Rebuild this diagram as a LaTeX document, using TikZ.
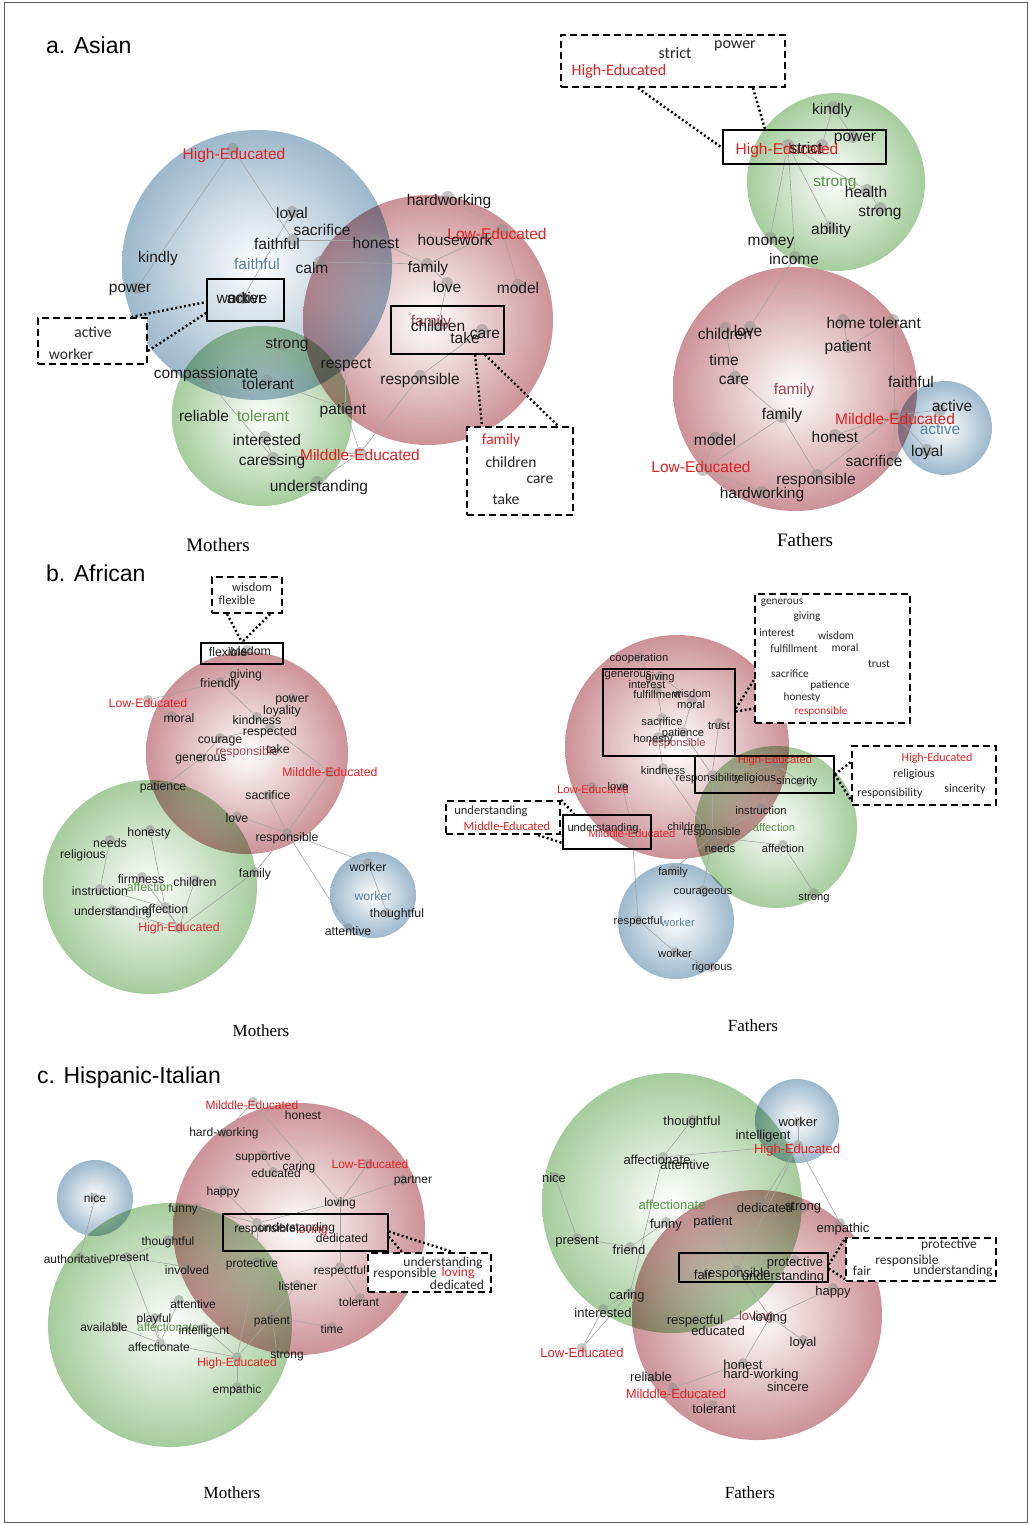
\documentclass[tikz,border=0pt]{standalone}
\usepackage{fontspec}
\setmainfont{Liberation Serif}
\setsansfont{Liberation Sans}
\newfontfamily\calfont{Carlito}
\definecolor{txt}{RGB}{28,28,28}
\definecolor{calltxt}{RGB}{40,40,40}
\definecolor{hired}{RGB}{228,32,32}
\definecolor{bluelab}{RGB}{88,130,165}
\definecolor{greenlab}{RGB}{88,150,70}
\definecolor{famc}{RGB}{160,70,82}
\definecolor{cblue}{RGB}{140,172,196}
\definecolor{cred}{RGB}{196,128,134}
\definecolor{cgreen}{RGB}{150,196,140}
\definecolor{edgec}{RGB}{165,165,165}
\definecolor{dotc}{RGB}{140,140,140}
\definecolor{framec}{RGB}{90,90,90}
\newcommand\mkdot[2]{\node[dotn] (#1) at (#2) {};}
\newcommand\mkw[4][]{\node[#1] (#2) at (#3) {#4};}
\tikzset{
 circ/.style={inner color=white, opacity=0.85, blend mode=multiply},
 lab/.style={inner sep=0pt, text=txt},
 wA/.style={lab, font=\sffamily\fontsize{15.5}{16}\selectfont},
 wBM/.style={lab, font=\sffamily\fontsize{12.3}{13}\selectfont},
 wBF/.style={lab, font=\sffamily\fontsize{11.2}{12}\selectfont},
 wCM/.style={lab, font=\sffamily\fontsize{12}{13}\selectfont},
 wCF/.style={lab, font=\sffamily\fontsize{13}{14}\selectfont},
 hr/.style={text=hired}, bl/.style={text=bluelab}, gr/.style={text=greenlab}, fm/.style={text=famc},
 cl/.style={inner sep=0pt, text=calltxt},
 cA/.style={cl, font=\calfont\fontsize{15.5}{16}\selectfont},
 cA2/.style={cl, font=\calfont\fontsize{16}{17}\selectfont},
 cB/.style={cl, font=\calfont\fontsize{12.5}{13}\selectfont},
 cBs/.style={cl, font=\calfont\fontsize{11.3}{12}\selectfont},
 cBm/.style={cl, font=\calfont\fontsize{12}{13}\selectfont},
 cC/.style={cl, font=\calfont\fontsize{13.5}{14}\selectfont},
 dotn/.style={circle, fill=dotc, fill opacity=0.5, draw=none, minimum size=12pt, inner sep=0pt},
 lnk/.style={draw=edgec, line width=0.6pt},
 sbox/.style={draw=black, line width=1.5pt, inner sep=0pt},
 dbox/.style={draw=black, fill=white, line width=2.2pt, dash pattern=on 7pt off 4pt, inner sep=0pt},
 dotl/.style={draw=black, line width=2.4pt, dash pattern=on 2pt off 2.5pt},
 captA/.style={inner sep=0pt, font=\rmfamily\fontsize{19}{20}\selectfont},
 captB/.style={inner sep=0pt, font=\rmfamily\fontsize{17}{18}\selectfont},
 ttl/.style={inner sep=0pt, anchor=west, font=\sffamily\fontsize{23}{24}\selectfont},
}
\begin{document}
\begin{tikzpicture}[x=1pt,y=-1pt]
\useasboundingbox (0,0) rectangle (1030,1525);
\fill[white] (0,0) rectangle (1030,1525);
\draw[framec, line width=1pt] (4,3) rectangle (1027,1522);

% ---------- titles and captions
\node[ttl] (tA) at (46,45) {a. Asian};
\node[ttl] (tB) at (46,573) {b. African};
\node[ttl] (tC) at (37,1078) {c. Hispanic-Italian};
\node[captA] (capAM) at (218,545) {Mothers};
\node[captA] (capAF) at (805,540) {Fathers};
\node[captB] (capBM) at (261,1031) {Mothers};
\node[captB] (capBF) at (753,1026) {Fathers};
\node[captB] (capCM) at (232,1493) {Mothers};
\node[captB] (capCF) at (750,1493) {Fathers};

% ================= a. Asian, Mothers
\shade[circ, outer color=cblue] (257,265) circle[radius=135pt];
\shade[circ, outer color=cred] (428,320) circle[radius=125pt];
\shade[circ, outer color=cgreen] (262,416) circle[radius=90pt];
\mkdot{amd1}{233,149}\mkdot{amd2}{137,288}\mkdot{amd3}{293,240}\mkdot{amd4}{292,212}
\mkdot{amd5}{243,298}\mkdot{amd6}{375,240}\mkdot{amd7}{320,262}\mkdot{amd8}{427,264}
\mkdot{amd9}{502,230}\mkdot{amd10}{448,197}\mkdot{amd11}{518,285}\mkdot{amd12}{447,283}
\mkdot{amd13}{438,325}\mkdot{amd14}{482,330}\mkdot{amd15}{420,376}\mkdot{amd16}{360,453}
\mkdot{amd17}{283,345}\mkdot{amd18}{267,381}\mkdot{amd19}{205,377}\mkdot{amd20}{265,437}
\mkdot{amd21}{273,458}\mkdot{amd22}{345,408}\mkdot{amd23}{317,482}\mkdot{amd24}{345,362}
\foreach \a/\b in {amd1/amd2,amd1/amd3,amd3/amd6,amd4/amd5,amd6/amd8,amd7/amd8,amd8/amd9,
 amd9/amd10,amd9/amd11,amd8/amd12,amd12/amd13,amd14/amd15,amd15/amd16,amd17/amd18,
 amd19/amd21,amd20/amd21,amd21/amd16,amd18/amd22,amd22/amd16,amd23/amd16,amd24/amd22}
 \draw[lnk] (\a) -- (\b);
\mkw[wA,hr]{amHE}{234,155}{High-Educated}
\mkw[wA]{amLoyal}{292,214}{loyal}
\mkw[wA]{amSacr}{322,230}{sacrifice}
\mkw[wA]{amFaith}{277,244}{faithful}
\mkw[wA,bl]{amFaithB}{257,264}{faithful}
\mkw[wA]{amHonest}{376,243}{honest}
\mkw[wA]{amCalm}{312,268}{calm}
\mkw[wA]{amKindly}{158,258}{kindly}
\mkw[wA]{amPower}{130,290}{power}
\mkw[wA]{amWorker}{240,298}{worker}
\mkw[wA]{amActive}{247,298}{active}
\mkw[wA]{amHard}{449,201}{hardworking}
\mkw[wA,hr]{amLow}{497,234}{Low-Educated}
\mkw[wA]{amHouse}{455,240}{housework}
\mkw[wA]{amFamily}{428,268}{family}
\mkw[wA]{amLove}{447,287}{love}
\mkw[wA]{amModel}{518,288}{model}
\mkw[wA,fm]{amFamR}{431,322}{family}
\mkw[wA]{amChildren}{438,326}{children}
\mkw[wA]{amCare}{485,334}{care}
\mkw[wA]{amTake}{465,338}{take}
\mkw[wA]{amStrong}{287,345}{strong}
\mkw[wA]{amRespect}{346,365}{respect}
\mkw[wA]{amCompass}{206,374}{compassionate}
\mkw[wA]{amTol}{268,384}{tolerant}
\mkw[wA]{amResp}{420,380}{responsible}
\mkw[wA]{amReliable}{204,416}{reliable}
\mkw[wA,gr]{amTolG}{263,416}{tolerant}
\mkw[wA]{amPatient}{343,410}{patient}
\mkw[wA]{amInter}{267,440}{interested}
\mkw[wA,hr]{amMild}{360,455}{Milddle-Educated}
\mkw[wA]{amCaress}{272,461}{caressing}
\mkw[wA]{amUnder}{319,487}{understanding}
\node[sbox, minimum width=77pt, minimum height=42pt] (amS1) at (245.5,300) {};
\node[dbox, minimum width=109pt, minimum height=46pt] (amD1) at (92.5,341) {};
\node[sbox, minimum width=113pt, minimum height=48pt] (amS2) at (447.5,330) {};
\node[dbox, minimum width=106pt, minimum height=88pt] (amD2) at (520,471) {};
\draw[dotl] ([xshift=-17pt]amD1.north east) -- ([yshift=-2pt]amS1.west);
\draw[dotl] ([yshift=-34pt]amD1.north east) -- ([yshift=-13pt]amS1.west);
\draw[dotl] ([xshift=27.5pt]amS2.south) -- ([xshift=-38pt]amD2.north);
\draw[dotl] ([xshift=37.5pt]amS2.south) -- ([xshift=-16pt]amD2.north east);
\mkw[cA]{amDa}{93,332}{active}
\mkw[cA]{amDw}{71,354}{worker}
\mkw[cA,hr]{amDf}{501,440}{family}
\mkw[cA]{amDc}{511,462}{children}
\mkw[cA]{amDca}{540,480}{care}
\mkw[cA]{amDt}{506,499}{take}

% ================= a. Asian, Fathers
\shade[circ, outer color=cgreen] (836,182) circle[radius=89pt];
\shade[circ, outer color=cred] (795,389) circle[radius=122pt];
\shade[circ, outer color=cblue] (945,428) circle[radius=47pt];
\mkdot{afd1}{788,145}\mkdot{afd2}{833,107}\mkdot{afd3}{822,145}\mkdot{afd4}{853,137}
\mkdot{afd5}{867,190}\mkdot{afd6}{880,208}\mkdot{afd7}{830,227}\mkdot{afd8}{770,238}
\mkdot{afd9}{795,257}\mkdot{afd10}{750,327}\mkdot{afd11}{725,328}\mkdot{afd12}{735,377}
\mkdot{afd13}{782,417}\mkdot{afd14}{817,475}\mkdot{afd15}{895,415}\mkdot{afd16}{703,470}
\mkdot{afd17}{715,438}\mkdot{afd18}{762,492}\mkdot{afd19}{893,320}\mkdot{afd20}{843,320}
\mkdot{afd21}{848,347}\mkdot{afd22}{835,435}\mkdot{afd23}{927,450}\mkdot{afd24}{893,457}
\mkdot{afd25}{940,410}
\foreach \a/\b in {afd1/afd3,afd2/afd3,afd2/afd4,afd1/afd5,afd5/afd6,afd1/afd7,afd1/afd9,
 afd1/afd8,afd9/afd10,afd11/afd12,afd12/afd13,afd13/afd14,afd14/afd15,afd13/afd16,
 afd17/afd16,afd16/afd18,afd15/afd19,afd20/afd21,afd21/afd19,afd15/afd22,afd15/afd23,
 afd15/afd24,afd15/afd25}
 \draw[lnk] (\a) -- (\b);
\mkw[wA]{afKindly}{832,110}{kindly}
\mkw[wA,hr]{afHE}{787,150}{High-Educated}
\mkw[wA]{afStrict}{806,148}{strict}
\mkw[wA]{afPower}{855,139}{power}
\mkw[wA,gr]{afStrongG}{835,183}{strong}
\mkw[wA]{afHealth}{866,192}{health}
\mkw[wA]{afStrong}{880,213}{strong}
\mkw[wA]{afAbility}{831,230}{ability}
\mkw[wA]{afMoney}{771,243}{money}
\mkw[wA]{afIncome}{794,259}{income}
\mkw[wA]{afLove}{748,331}{love}
\mkw[wA]{afChildren}{725,334}{children}
\mkw[wA]{afHome}{846,323}{home}
\mkw[wA]{afTol}{895,323}{tolerant}
\mkw[wA]{afPatient}{848,347}{patient}
\mkw[wA]{afTime}{724,360}{time}
\mkw[wA]{afCare}{734,380}{care}
\mkw[wA,fm]{afFamR}{794,390}{family}
\mkw[wA]{afFamily}{782,415}{family}
\mkw[wA]{afFaith}{911,382}{faithful}
\mkw[wA]{afActive}{952,406}{active}
\mkw[wA,hr]{afMild}{895,419}{Milddle-Educated}
\mkw[wA,bl]{afActiveB}{940,429}{active}
\mkw[wA]{afHonest}{835,437}{honest}
\mkw[wA]{afLoyal}{927,452}{loyal}
\mkw[wA]{afModel}{715,440}{model}
\mkw[wA]{afSacr}{874,461}{sacrifice}
\mkw[wA,hr]{afLow}{701,467}{Low-Educated}
\mkw[wA]{afResp}{816,480}{responsible}
\mkw[wA]{afHard}{762,494}{hardworking}
\node[dbox, minimum width=224pt, minimum height=52pt] (afD1) at (673,61) {};
\node[sbox, minimum width=163pt, minimum height=34pt] (afS1) at (804.5,147) {};
\draw[dotl] ([xshift=-35pt]afD1.south) -- ([yshift=-1pt]afS1.west);
\draw[dotl] ([xshift=80pt]afD1.south) -- ([xshift=-39.5pt]afS1.north);
\mkw[cA2]{afDs}{675,53}{strict}
\mkw[cA2]{afDp}{735,46}{power}
\mkw[cA2,hr]{afDh}{619,71}{High-Educated}

% ================= b. African, Mothers
\shade[circ, outer color=cred] (247,753) circle[radius=101pt];
\shade[circ, outer color=cgreen] (150,887) circle[radius=107pt];
\shade[circ, outer color=cblue] (373,895) circle[radius=43pt];
\begin{scope}[dotn/.append style={minimum size=10pt}]
\mkdot{bmd1}{247,650}\mkdot{bmd2}{220,682}\mkdot{bmd3}{148,700}\mkdot{bmd4}{257,717}
\mkdot{bmd5}{270,727}\mkdot{bmd6}{330,772}\mkdot{bmd7}{292,698}\mkdot{bmd8}{220,738}
\mkdot{bmd9}{201,758}\mkdot{bmd10}{163,787}\mkdot{bmd11}{287,833}\mkdot{bmd12}{268,795}
\mkdot{bmd13}{237,816}\mkdot{bmd14}{255,872}\mkdot{bmd15}{179,928}\mkdot{bmd16}{368,863}
\mkdot{bmd17}{348,928}\mkdot{bmd18}{387,913}\mkdot{bmd19}{165,907}\mkdot{bmd20}{100,889}
\mkdot{bmd21}{110,840}\mkdot{bmd22}{150,830}\mkdot{bmd23}{195,880}\mkdot{bmd24}{142,877}
\mkdot{bmd25}{113,910}\mkdot{bmd26}{172,716}
\end{scope}
\foreach \a/\b in {bmd1/bmd2,bmd2/bmd3,bmd2/bmd4,bmd4/bmd5,bmd5/bmd6,bmd7/bmd5,bmd8/bmd5,
 bmd9/bmd10,bmd8/bmd9,bmd6/bmd11,bmd12/bmd11,bmd13/bmd11,bmd11/bmd14,bmd14/bmd15,
 bmd11/bmd16,bmd11/bmd17,bmd16/bmd18,bmd15/bmd19,bmd19/bmd20,bmd20/bmd21,bmd22/bmd19,
 bmd23/bmd15,bmd24/bmd15,bmd25/bmd15,bmd3/bmd26}
 \draw[lnk] (\a) -- (\b);
\mkw[wBM]{bmFlex}{228,652}{flexible}
\mkw[wBM]{bmWisdom}{250,651}{wisdom}
\mkw[wBM]{bmGiving}{246,675}{giving}
\mkw[wBM]{bmFriendly}{220,684}{friendly}
\mkw[wBM,hr]{bmLow}{148,703}{Low-Educated}
\mkw[wBM]{bmMoral}{179,718}{moral}
\mkw[wBM]{bmPower}{292,700}{power}
\mkw[wBM]{bmLoyal}{282,711}{loyality}
\mkw[wBM]{bmKind}{257,720}{kindness}
\mkw[wBM]{bmRespd}{270,732}{respected}
\mkw[wBM]{bmCourage}{220,741}{courage}
\mkw[wBM,fm]{bmRespR}{247,752}{responsible}
\mkw[wBM]{bmTake}{278,749}{take}
\mkw[wBM]{bmGen}{201,759}{generous}
\mkw[wBM,hr]{bmMild}{330,772}{Milddle-Educated}
\mkw[wBM]{bmPatience}{163,787}{patience}
\mkw[wBM]{bmSacr}{268,795}{sacrifice}
\mkw[wBM]{bmLove}{237,818}{love}
\mkw[wBM]{bmHonesty}{149,833}{honesty}
\mkw[wBM]{bmNeeds}{110,843}{needs}
\mkw[wBM]{bmResp}{287,838}{responsible}
\mkw[wBM]{bmRelig}{83,855}{religious}
\mkw[wBM]{bmWorker}{368,867}{worker}
\mkw[wBM]{bmFamily}{255,874}{family}
\mkw[wBM]{bmFirm}{141,879}{firmness}
\mkw[wBM]{bmChildren}{195,882}{children}
\mkw[wBM,gr]{bmAffG}{150,887}{affection}
\mkw[wBM]{bmInstr}{100,891}{instruction}
\mkw[wBM,bl]{bmWorkerB}{373,896}{worker}
\mkw[wBM]{bmUnder}{113,912}{understanding}
\mkw[wBM]{bmAff}{165,909}{affection}
\mkw[wBM]{bmThought}{397,914}{thoughtful}
\mkw[wBM,hr]{bmHE}{179,928}{High-Educated}
\mkw[wBM]{bmAtt}{348,931}{attentive}
\node[dbox, minimum width=70pt, minimum height=36pt] (bmD1) at (247,595) {};
\node[sbox, minimum width=82pt, minimum height=21pt] (bmS1) at (242,653.5) {};
\draw[dotl] ([xshift=-20pt]bmD1.south) -- (bmS1.north);
\draw[dotl] ([xshift=23pt]bmD1.south) -- (bmS1.north);
\mkw[cB]{bmDw}{252,587}{wisdom}
\mkw[cB]{bmDf}{237,600}{flexible}

% ================= b. African, Fathers
\shade[circ, outer color=cred] (677,747) circle[radius=112pt];
\shade[circ, outer color=cgreen] (776,827) circle[radius=81pt];
\shade[circ, outer color=cblue] (676,921) circle[radius=58pt];
\begin{scope}[dotn/.append style={minimum size=10pt}]
\mkdot{bfd1}{639,657}\mkdot{bfd2}{657,690}\mkdot{bfd3}{662,718}\mkdot{bfd4}{658,737}
\mkdot{bfd5}{663,768}\mkdot{bfd6}{683,732}\mkdot{bfd7}{692,700}\mkdot{bfd8}{660,676}
\mkdot{bfd9}{719,723}\mkdot{bfd10}{712,775}\mkdot{bfd11}{777,765}\mkdot{bfd12}{800,782}
\mkdot{bfd13}{712,837}\mkdot{bfd14}{761,808}\mkdot{bfd15}{783,845}\mkdot{bfd16}{814,893}
\mkdot{bfd17}{703,890}\mkdot{bfd18}{673,870}\mkdot{bfd19}{632,830}\mkdot{bfd20}{623,787}
\mkdot{bfd21}{592,787}\mkdot{bfd22}{638,920}\mkdot{bfd23}{675,952}\mkdot{bfd24}{712,967}
\mkdot{bfd25}{720,848}
\end{scope}
\foreach \a/\b in {bfd1/bfd2,bfd2/bfd3,bfd3/bfd4,bfd4/bfd5,bfd4/bfd6,bfd6/bfd7,bfd7/bfd8,
 bfd6/bfd10,bfd9/bfd10,bfd10/bfd11,bfd11/bfd12,bfd10/bfd13,bfd13/bfd14,bfd13/bfd15,
 bfd15/bfd16,bfd13/bfd17,bfd13/bfd18,bfd19/bfd20,bfd21/bfd20,bfd19/bfd22,bfd22/bfd23,
 bfd23/bfd24,bfd13/bfd25,bfd11/bfd14,bfd5/bfd13}
 \draw[lnk] (\a) -- (\b);
\mkw[wBF]{bfCoop}{639,659}{cooperation}
\mkw[wBF]{bfGen}{628,676}{generous}
\mkw[wBF]{bfGiving}{660,678}{giving}
\mkw[wBF]{bfInt}{647,684}{interest}
\mkw[wBF]{bfFulf}{657,694}{fulfillment}
\mkw[wBF]{bfWisdom}{692,693}{wisdom}
\mkw[wBF]{bfMoral}{691,704}{moral}
\mkw[wBF]{bfSacr}{662,721}{sacrifice}
\mkw[wBF]{bfTrust}{719,726}{trust}
\mkw[wBF,fm]{bfRespR}{677,744}{responsible}
\mkw[wBF]{bfPat}{683,734}{patience}
\mkw[wBF]{bfHonesty}{653,740}{honesty}
\mkw[wBF]{bfKind}{663,770}{kindness}
\mkw[wBF,hr]{bfHE}{775,761}{High-Educated}
\mkw[wBF]{bfRelig}{755,779}{religious}
\mkw[wBF]{bfRespty}{708,779}{responsibility}
\mkw[wBF]{bfSinc}{797,782}{sincerity}
\mkw[wBF,hr]{bfLow}{593,789}{Low-Educated}
\mkw[wBF]{bfLove}{618,786}{love}
\mkw[wBF,hr]{bfMild}{632,833}{Milddle-Educated}
\mkw[wBF]{bfUnder}{603,829}{understanding}
\mkw[wBF]{bfChild}{687,826}{children}
\mkw[wBF]{bfResp}{712,833}{responsible}
\mkw[wBF]{bfInstr}{761,810}{instruction}
\mkw[wBF,gr]{bfAffG}{774,827}{affection}
\mkw[wBF]{bfNeeds}{720,848}{needs}
\mkw[wBF]{bfAff}{783,848}{affection}
\mkw[wBF]{bfFamily}{673,873}{family}
\mkw[wBF]{bfCour}{703,893}{courageous}
\mkw[wBF]{bfStrong}{814,898}{strong}
\mkw[wBF]{bfRespf}{638,922}{respectful}
\mkw[wBF,bl]{bfWorkerB}{678,922}{worker}
\mkw[wBF]{bfWorker}{675,953}{worker}
\mkw[wBF]{bfRig}{712,968}{rigorous}
\node[sbox, minimum width=132pt, minimum height=87pt] (bfS1) at (669,712.5) {};
\node[dbox, minimum width=155pt, minimum height=129pt] (bfD1) at (832.5,658.5) {};
\node[sbox, minimum width=139pt, minimum height=37pt] (bfS2) at (764.5,774.5) {};
\node[dbox, minimum width=144pt, minimum height=59pt] (bfD2) at (924,775.5) {};
\node[sbox, minimum width=88pt, minimum height=34pt] (bfS3) at (607,832) {};
\node[dbox, minimum width=114pt, minimum height=33pt] (bfD3) at (503,817.5) {};
\draw[dotl] ([yshift=4pt]bfS1.east) -- ([yshift=-21.5pt]bfD1.west);
\draw[dotl] ([yshift=1pt]bfS1.east) -- ([yshift=-50pt]bfD1.west);
\draw[dotl] (bfS2.east) -- ([yshift=13.5pt]bfD2.west);
\draw[dotl] (bfS2.east) -- ([yshift=-24.5pt]bfD2.west);
\draw[dotl] (bfD3.north east) -- ([xshift=12pt]bfS3.north west);
\draw[dotl] ([xshift=-23pt]bfD3.south east) -- ([yshift=-11pt]bfS3.west);
\mkw[cBs]{bfD1a}{782,603}{generous}
\mkw[cBs]{bfD1b}{807,617}{giving}
\mkw[cBs]{bfD1c}{777,633}{interest}
\mkw[cBs]{bfD1d}{836,636}{wisdom}
\mkw[cBs]{bfD1e}{794,649}{fulfillment}
\mkw[cBs]{bfD1f}{845,648}{moral}
\mkw[cBs]{bfD1g}{879,664}{trust}
\mkw[cBs]{bfD1h}{790,674}{sacrifice}
\mkw[cBs]{bfD1i}{830,685}{patience}
\mkw[cBs]{bfD1j}{802,697}{honesty}
\mkw[cBs,hr]{bfD1k}{821,711}{responsible}
\mkw[cBm,hr]{bfD2a}{937,758}{High-Educated}
\mkw[cBm]{bfD2b}{914,774}{religious}
\mkw[cBm]{bfD2c}{890,793}{responsibility}
\mkw[cBm]{bfD2d}{965,789}{sincerity}
\mkw[cB]{bfD3a}{491,811}{understanding}
\mkw[cB,hr]{bfD3b}{507,826}{Middle-Educated}

% ================= c. Hispanic-Italian, Mothers
\shade[circ, outer color=cblue] (95,1198) circle[radius=38pt];
\shade[circ, outer color=cred] (299,1229) circle[radius=126pt];
\shade[circ, outer color=cgreen] (170,1325) circle[radius=122pt];
\begin{scope}[dotn/.append style={minimum size=10pt}]
\mkdot{cmd1}{95,1198}\mkdot{cmd2}{80,1257}\mkdot{cmd3}{127,1257}\mkdot{cmd4}{168,1240}
\mkdot{cmd5}{187,1267}\mkdot{cmd6}{160,1343}\mkdot{cmd7}{237,1357}\mkdot{cmd8}{118,1327}
\mkdot{cmd9}{155,1318}\mkdot{cmd10}{179,1300}\mkdot{cmd11}{204,1328}\mkdot{cmd12}{237,1387}
\mkdot{cmd13}{257,1262}\mkdot{cmd14}{257,1223}\mkdot{cmd15}{272,1317}\mkdot{cmd16}{277,1352}
\mkdot{cmd17}{253,1102}\mkdot{cmd18}{340,1202}\mkdot{cmd19}{263,1155}\mkdot{cmd20}{273,1172}
\mkdot{cmd21}{368,1164}\mkdot{cmd22}{403,1180}\mkdot{cmd23}{340,1267}\mkdot{cmd24}{360,1298}
\mkdot{cmd25}{223,1190}\mkdot{cmd26}{197,1208}\mkdot{cmd27}{332,1327}\mkdot{cmd28}{297,1285}
\mkdot{cmd29}{224,1133}
\end{scope}
\foreach \a/\b in {cmd1/cmd2,cmd3/cmd4,cmd3/cmd5,cmd3/cmd6,cmd6/cmd7,cmd8/cmd6,cmd9/cmd6,
 cmd10/cmd6,cmd11/cmd7,cmd7/cmd12,cmd7/cmd13,cmd13/cmd14,cmd7/cmd15,cmd15/cmd16,
 cmd17/cmd18,cmd19/cmd20,cmd18/cmd21,cmd18/cmd22,cmd18/cmd14,cmd18/cmd23,cmd23/cmd24,
 cmd25/cmd14,cmd26/cmd14,cmd15/cmd27,cmd15/cmd28,cmd17/cmd29}
 \draw[lnk] (\a) -- (\b);
\mkw[wCM]{cmNice}{95,1198}{nice}
\mkw[wCM,hr]{cmMild}{252,1105}{Milddle-Educated}
\mkw[wCM]{cmHonest}{303,1115}{honest}
\mkw[wCM]{cmHard}{224,1133}{hard-working}
\mkw[wCM]{cmSupp}{263,1157}{supportive}
\mkw[wCM]{cmCaring}{299,1167}{caring}
\mkw[wCM]{cmEdu}{276,1173}{educated}
\mkw[wCM,hr]{cmLow}{370,1164}{Low-Educated}
\mkw[wCM]{cmPartner}{413,1181}{partner}
\mkw[wCM]{cmHappy}{223,1192}{happy}
\mkw[wCM]{cmLoving}{340,1203}{loving}
\mkw[wCM]{cmFunny}{183,1209}{funny}
\mkw[wCM,hr]{cmLovR}{312,1230}{loving}
\mkw[wCM]{cmResp}{265,1229}{responsible}
\mkw[wCM]{cmUnder}{297,1228}{understanding}
\mkw[wCM]{cmDed}{342,1238}{dedicated}
\mkw[wCM]{cmThought}{168,1242}{thoughtful}
\mkw[wCM]{cmAuth}{76.5,1259}{authoritative}
\mkw[wCM]{cmPresent}{129,1259}{present}
\mkw[wCM]{cmInv}{187,1270}{involved}
\mkw[wCM]{cmProt}{252,1264}{protective}
\mkw[wCM]{cmRespf}{340,1271}{respectful}
\mkw[wCM]{cmList}{298,1286}{listener}
\mkw[wCM]{cmTol}{359,1302}{tolerant}
\mkw[wCM]{cmAtt}{193,1304}{attentive}
\mkw[wCM,gr]{cmAffG}{168,1327}{affectionate}
\mkw[wCM]{cmPlay}{154,1319}{playful}
\mkw[wCM]{cmAvail}{104,1327}{available}
\mkw[wCM]{cmIntel}{204,1331}{intelligent}
\mkw[wCM]{cmPatient}{272,1321}{patient}
\mkw[wCM]{cmTime}{332,1329}{time}
\mkw[wCM]{cmAff}{159,1347}{affectionate}
\mkw[wCM,hr]{cmHE}{237,1363}{High-Educated}
\mkw[wCM]{cmStrong}{287,1356}{strong}
\mkw[wCM]{cmEmp}{237,1390}{empathic}
\node[sbox, minimum width=165pt, minimum height=37pt] (cmS1) at (305.5,1232.5) {};
\node[dbox, minimum width=123pt, minimum height=39pt] (cmD1) at (429.5,1272.5) {};
\draw[dotl] ([yshift=1pt]cmS1.east) -- ([xshift=22.5pt]cmD1.north);
\draw[dotl] ([yshift=-4pt]cmS1.east) -- ([xshift=35pt]cmD1.north west);
\mkw[cC]{cmDa}{443,1263}{understanding}
\mkw[cC]{cmDb}{405,1274}{responsible}
\mkw[cC,hr]{cmDc}{458,1273}{loving}
\mkw[cC]{cmDd}{457,1285}{dedicated}

% ================= c. Hispanic-Italian, Fathers
\shade[circ, outer color=cgreen] (672,1203) circle[radius=130pt];
\shade[circ, outer color=cblue] (797,1121) circle[radius=42pt];
\shade[circ, outer color=cred] (757,1315) circle[radius=125pt];
\begin{scope}[dotn/.append style={minimum size=10pt}]
\mkdot{cfd1}{798,1145}\mkdot{cfd2}{798,1122}\mkdot{cfd3}{763,1136}\mkdot{cfd4}{663,1157}
\mkdot{cfd5}{762,1203}\mkdot{cfd6}{840,1223}\mkdot{cfd7}{692,1120}\mkdot{cfd8}{630,1293}
\mkdot{cfd9}{630,1247}\mkdot{cfd10}{577,1238}\mkdot{cfd11}{555,1177}\mkdot{cfd12}{666,1222}
\mkdot{cfd13}{603,1309}\mkdot{cfd14}{582,1348}\mkdot{cfd15}{713,1220}\mkdot{cfd16}{737,1270}
\mkdot{cfd17}{770,1317}\mkdot{cfd18}{833,1288}\mkdot{cfd19}{803,1340}\mkdot{cfd20}{743,1363}
\mkdot{cfd21}{673,1388}\mkdot{cfd22}{651,1377}\mkdot{cfd23}{713,1405}\mkdot{cfd24}{795,1260}
\mkdot{cfd25}{695,1320}\mkdot{cfd26}{803,1208}
\end{scope}
\foreach \a/\b in {cfd1/cfd2,cfd1/cfd3,cfd1/cfd4,cfd1/cfd5,cfd1/cfd6,cfd4/cfd7,cfd4/cfd8,
 cfd9/cfd10,cfd10/cfd11,cfd9/cfd12,cfd8/cfd13,cfd13/cfd14,cfd8/cfd14,cfd15/cfd16,
 cfd16/cfd17,cfd17/cfd18,cfd17/cfd19,cfd17/cfd20,cfd20/cfd21,cfd21/cfd22,cfd21/cfd23,
 cfd25/cfd17,cfd1/cfd16}
 \draw[lnk] (\a) -- (\b);
\mkw[wCF]{cfThought}{692,1122}{thoughtful}
\mkw[wCF]{cfWorker}{798,1122}{worker}
\mkw[wCF]{cfIntel}{763,1136}{intelligent}
\mkw[wCF,hr]{cfHE}{797,1150}{High-Educated}
\mkw[wCF]{cfAff}{657,1160}{affectionate}
\mkw[wCF]{cfAtt}{685,1165}{attentive}
\mkw[wCF]{cfNice}{554,1178}{nice}
\mkw[wCF,gr]{cfAffG}{672,1205}{affectionate}
\mkw[wCF]{cfDed}{765,1208}{dedicated}
\mkw[wCF]{cfStrong}{803,1208}{strong}
\mkw[wCF]{cfFunny}{666,1225}{funny}
\mkw[wCF]{cfPatient}{713,1222}{patient}
\mkw[wCF]{cfEmp}{843,1229}{empathic}
\mkw[wCF]{cfPresent}{577,1242}{present}
\mkw[wCF]{cfFriend}{629,1250}{friend}
\mkw[wCF]{cfProt}{795,1263}{protective}
\mkw[wCF]{cfFair}{703,1275}{fair}
\mkw[wCF]{cfResp}{737,1274}{responsible}
\mkw[wCF]{cfUnder}{783,1277}{understanding}
\mkw[wCF]{cfHappy}{833,1292}{happy}
\mkw[wCF]{cfCaring}{627,1296}{caring}
\mkw[wCF]{cfInter}{603,1313}{interested}
\mkw[wCF]{cfRespf}{695,1321}{respectful}
\mkw[wCF]{cfEdu}{718,1331}{educated}
\mkw[wCF,fm]{cfLovR}{756,1317}{loving}
\mkw[wCF]{cfLoving}{770,1318}{loving}
\mkw[wCF]{cfLoyal}{803,1343}{loyal}
\mkw[wCF,hr]{cfLow}{582,1353}{Low-Educated}
\mkw[wCF]{cfHonest}{743,1365}{honest}
\mkw[wCF]{cfHard}{761,1375}{hard-working}
\mkw[wCF]{cfSinc}{788,1387}{sincere}
\mkw[wCF]{cfReliable}{651,1377}{reliable}
\mkw[wCF,hr]{cfMild}{676,1394}{Milddle-Educated}
\mkw[wCF]{cfTol}{714,1409}{tolerant}
\node[sbox, minimum width=149pt, minimum height=29pt] (cfS1) at (753.5,1267.5) {};
\node[dbox, minimum width=150pt, minimum height=43pt] (cfD1) at (921,1259.5) {};
\draw[dotl] ([yshift=3pt]cfS1.east) -- ([yshift=-2pt]cfD1.north west);
\draw[dotl] ([yshift=-1pt]cfS1.east) -- ([yshift=3pt]cfD1.south west);
\mkw[cC]{cfDa}{949,1245}{protective}
\mkw[cC]{cfDb}{907,1261}{responsible}
\mkw[cC]{cfDc}{862,1271}{fair}
\mkw[cC]{cfDd}{953,1271}{understanding}
\end{tikzpicture}
\end{document}
